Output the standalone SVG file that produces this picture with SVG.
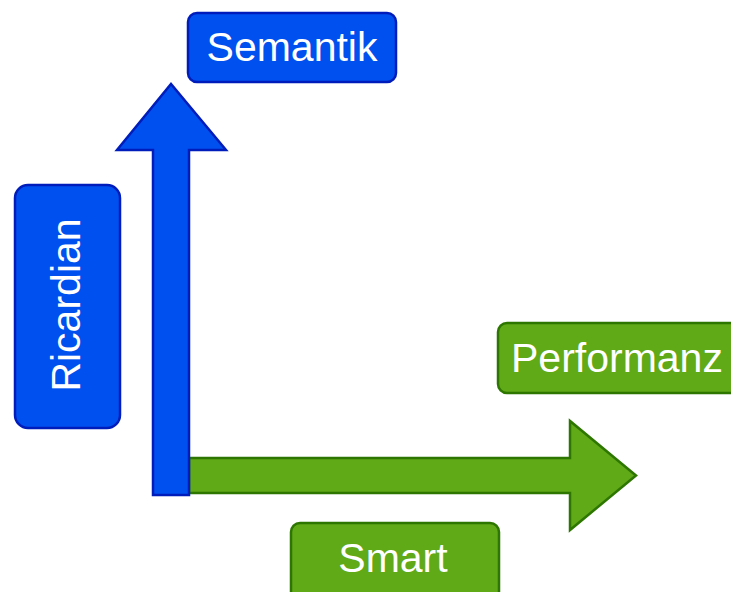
<svg xmlns="http://www.w3.org/2000/svg" width="731" height="592" viewBox="0 0 731 592">
<style>
.blue{fill:#0050ef;stroke:#001dbc;stroke-width:2.5}
.green{fill:#60a917;stroke:#2d7600;stroke-width:2.5}
.lbl{font-family:"Liberation Sans",Arial,sans-serif;font-size:41px;fill:#ffffff}
</style>
<rect width="731" height="592" fill="#ffffff"/>
<g id="connectors">
<polygon id="arrow-smart" class="green" points="189,458 570,458 570,421 636,475.5 570,530 570,493 189,493"/>
<polygon id="arrow-semantik" class="blue" points="153,495 153,150 117,150 171,84 226,150 189,150 189,495"/>
</g>
<g id="semantik">
<rect class="blue" x="188" y="13" width="208" height="69" rx="9"/>
<text class="lbl" x="292" y="61" text-anchor="middle">Semantik</text>
</g>
<g id="ricardian">
<rect class="blue" x="15" y="185" width="105" height="243" rx="13"/>
<text class="lbl" transform="translate(80,305) rotate(-90)" text-anchor="middle">Ricardian</text>
</g>
<g id="performanz">
<rect class="green" x="498" y="323" width="250" height="70" rx="9"/>
<text class="lbl" x="511" y="372">Performanz</text>
</g>
<g id="smart">
<rect class="green" x="291" y="523" width="208" height="80" rx="9"/>
<text class="lbl" x="393" y="572" text-anchor="middle">Smart</text>
</g>
</svg>
